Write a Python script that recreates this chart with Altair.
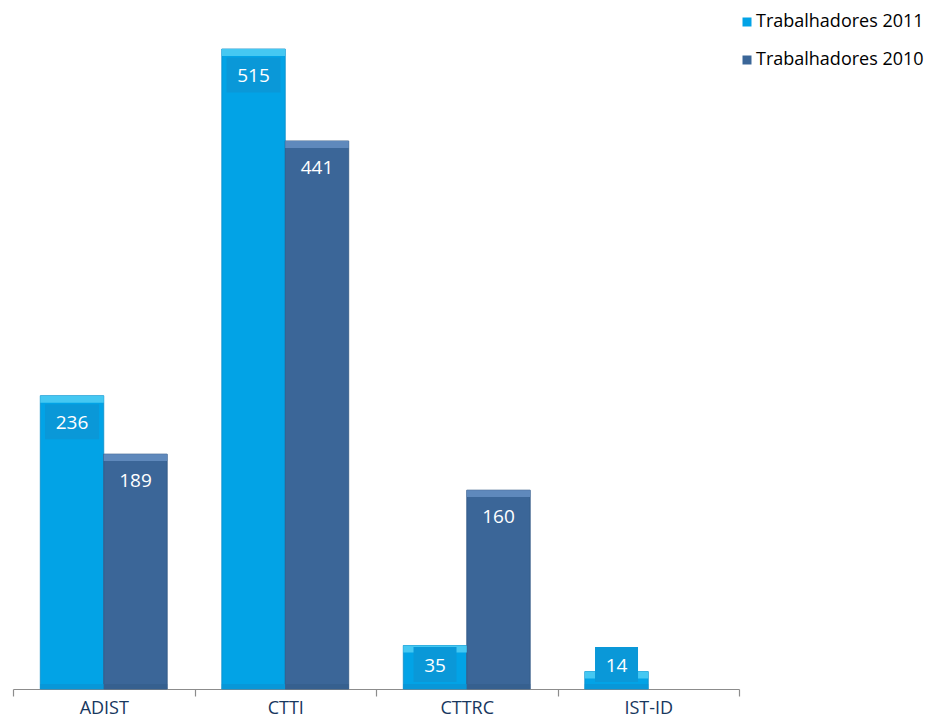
import altair as alt
import pandas as pd

categories = ["ADIST", "CTTI", "CTTRC", "IST-ID"]
series = ["Trabalhadores 2011", "Trabalhadores 2010"]
values_2011 = [236, 515, 35, 14]
values_2010 = [189, 441, 160, None]

rows = []
for c, a, b in zip(categories, values_2011, values_2010):
    rows.append({"cat": c, "serie": series[0], "value": a})
    if b is not None:
        rows.append({"cat": c, "serie": series[1], "value": b})
df = pd.DataFrame(rows)

FONT = "Open Sans"
LIGHT = "#02A3E6"
DARK = "#3B6698"

xenc = alt.X("cat:N", sort=categories, title=None,
             scale=alt.Scale(paddingInner=0, paddingOuter=0),
             axis=alt.Axis(tickBand="extent", labelAngle=0, labelFont=FONT,
                           labelFontSize=18, labelColor="#17375E",
                           domainColor="#8C8C8C", tickColor="#8C8C8C",
                           tickSize=7, labelPadding=17, labelBaseline="alphabetic",
                           domainWidth=1.2, tickWidth=1.2))
xoff = alt.XOffset("serie:N", sort=series,
                   scale=alt.Scale(domain=series, paddingInner=0, paddingOuter=0.43))
yscale = alt.Scale(domain=[0, 515], nice=False, zero=True)

base = alt.Chart(df)

is2011 = alt.datum.serie == series[0]

bars = base.mark_bar(strokeWidth=0.8).encode(
    x=xenc,
    xOffset=xoff,
    y=alt.Y("value:Q", scale=yscale, axis=None, title=None),
    color=alt.Color("serie:N", sort=series,
                    scale=alt.Scale(domain=series, range=[LIGHT, DARK]),
                    legend=alt.Legend(title=None, orient="none", legendX=725, legendY=-36,
                                      symbolType="square", symbolSize=81,
                                      symbolStrokeWidth=0, labelLimit=400,
                                      labelFont=FONT, labelFontSize=18, labelColor="#000000",
                                      rowPadding=20, padding=0, labelOffset=0)),
    stroke=alt.condition(is2011, alt.value("#0A8CC8"), alt.value("#2E5583")),
)

tops = base.transform_calculate(
    top2=alt.datum.value - 5.6
).mark_bar().encode(
    x=alt.X("cat:N", sort=categories),
    xOffset=xoff,
    y=alt.Y("value:Q", scale=yscale),
    y2="top2:Q",
    fill=alt.condition(is2011, alt.value("#45C8F2"), alt.value("#5F89BC")),
)

bottoms = base.transform_calculate(
    b2=alt.datum.value * 0 + 4.0
).mark_bar().encode(
    x=alt.X("cat:N", sort=categories),
    xOffset=xoff,
    y=alt.Y("b2:Q", scale=yscale),
    y2=alt.datum(0),
    fill=alt.condition(is2011, alt.value("#0897D8"), alt.value("#36608F")),
)

lab = base.transform_calculate(
    ly="max(datum.value - 21, 19.7)",
    txt="format(datum.value, 'd')",
    ndig="length(format(datum.value, 'd'))",
)

boxes3 = lab.transform_filter(
    is2011 & (alt.datum.ndig >= 3)
).mark_point(shape="M-1,-0.648L1,-0.648L1,0.648L-1,0.648Z", size=2916,
             filled=True, fill="#0A98D8", strokeWidth=0, opacity=1).encode(
    x=alt.X("cat:N", sort=categories), xOffset=xoff,
    y=alt.Y("ly:Q", scale=yscale),
)
boxes2 = lab.transform_filter(
    is2011 & (alt.datum.ndig < 3)
).mark_point(shape="M-1,-0.814L1,-0.814L1,0.814L-1,0.814Z", size=1849,
             filled=True, fill="#0A98D8", strokeWidth=0, opacity=1).encode(
    x=alt.X("cat:N", sort=categories), xOffset=xoff,
    y=alt.Y("ly:Q", scale=yscale),
)

texts = lab.mark_text(font=FONT, fontSize=19, color="white", baseline="middle",
                      align="center", dy=1).encode(
    x=alt.X("cat:N", sort=categories), xOffset=xoff,
    y=alt.Y("ly:Q", scale=yscale),
    text="txt:N",
)

chart = alt.layer(bars, bottoms, tops, boxes3, boxes2, texts).properties(
    width=726, height=640,
    padding={"left": 5, "top": 41, "right": 192, "bottom": 29},
    autosize=alt.AutoSizeParams(type="none"),
).configure_view(stroke=None).configure_axis(grid=False)

chart.save("out.html", embed_options={"renderer": "svg", "actions": False})
